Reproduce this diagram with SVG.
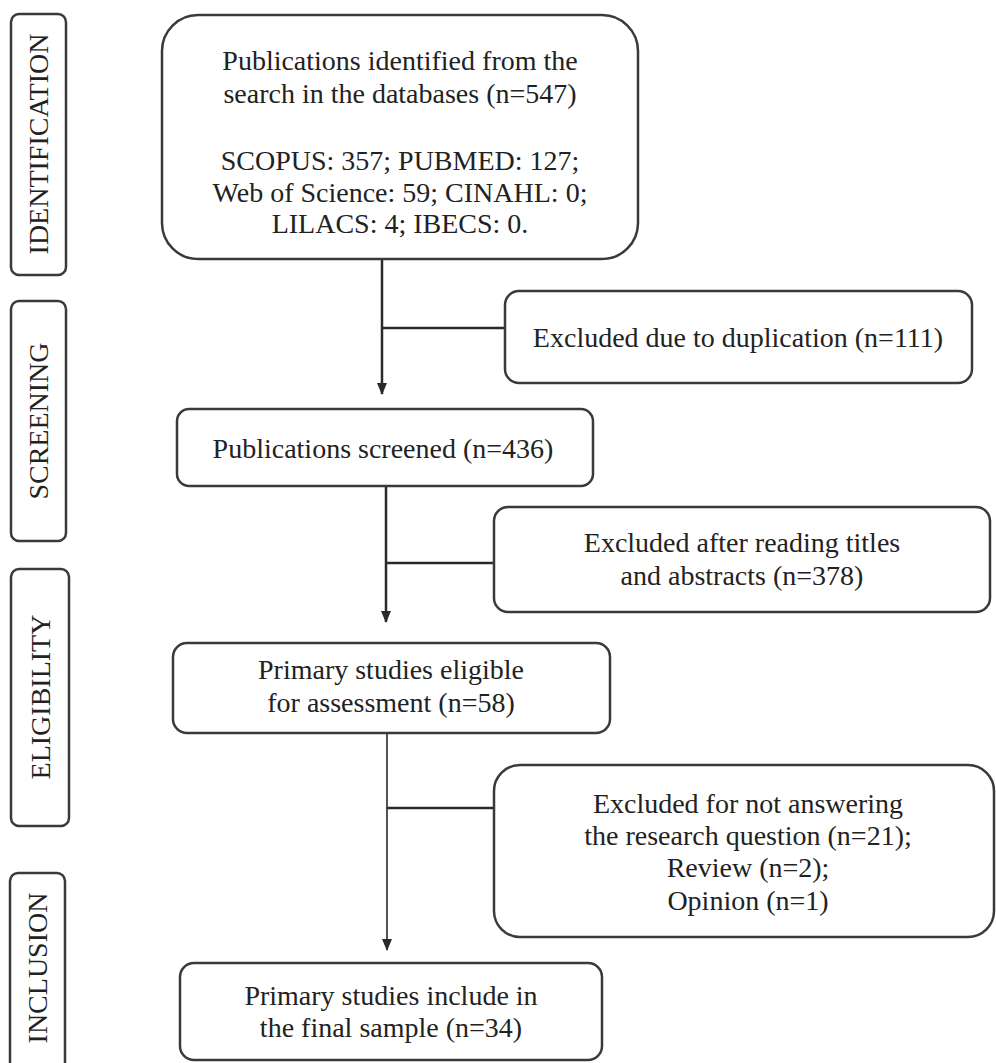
<svg xmlns="http://www.w3.org/2000/svg" width="996" height="1063" viewBox="0 0 996 1063">
<style>
.box{fill:#fff;stroke:#3a3a3a;stroke-width:2.5}
.t{font-family:"Liberation Serif","Times New Roman",serif;font-size:28px;fill:#222;text-anchor:middle}
.s{font-family:"Liberation Serif","Times New Roman",serif;font-size:28px;fill:#222;text-anchor:middle}
.c{fill:none;stroke:#2a2a2a;stroke-width:2.5}
</style>
<defs>
<marker id="arr" markerWidth="12" markerHeight="12" refX="11" refY="6" orient="auto" markerUnits="userSpaceOnUse">
<path d="M0,1 L12,6 L0,11 Z" fill="#2a2a2a"/>
</marker>
</defs>
<rect width="996" height="1063" fill="#fff"/>
<g id="stage-identification">
<rect class="box" x="11" y="14" width="55" height="261" rx="8"/>
<text class="s" transform="translate(48 144) rotate(-90)">IDENTIFICATION</text>
</g>
<g id="stage-screening">
<rect class="box" x="11" y="301" width="55" height="240" rx="8"/>
<text class="s" transform="translate(48 421) rotate(-90)">SCREENING</text>
</g>
<g id="stage-eligibility">
<rect class="box" x="11" y="569" width="58" height="257" rx="8"/>
<text class="s" transform="translate(50 697) rotate(-90)">ELIGIBILITY</text>
</g>
<g id="stage-inclusion">
<rect class="box" x="10" y="873" width="55" height="200" rx="8"/>
<text class="s" transform="translate(47 968) rotate(-90)">INCLUSION</text>
</g>
<g id="connectors">
<path class="c" d="M382,259 V394" marker-end="url(#arr)"/>
<path class="c" d="M382,328 H505"/>
<path class="c" d="M386,486 V622" marker-end="url(#arr)"/>
<path class="c" d="M386,563 H494"/>
<path class="c" d="M387,733 V950" style="stroke-width:1.6" marker-end="url(#arr)"/>
<path class="c" d="M387,808 H494"/>
</g>
<g id="n-identified">
<rect class="box" x="162" y="15" width="476" height="244" rx="36"/>
<text class="t" x="400" y="70">Publications identified from the</text>
<text class="t" x="400" y="103">search in the databases (n=547)</text>
<text class="t" x="400" y="170">SCOPUS: 357; PUBMED: 127;</text>
<text class="t" x="400" y="202">Web of Science: 59; CINAHL: 0;</text>
<text class="t" x="400" y="233">LILACS: 4; IBECS: 0.</text>
</g>
<g id="n-duplication">
<rect class="box" x="505" y="291" width="467" height="92" rx="14"/>
<text class="t" x="738" y="347">Excluded due to duplication (n=111)</text>
</g>
<g id="n-screened">
<rect class="box" x="177" y="409" width="416" height="77" rx="12"/>
<text class="t" x="383" y="458">Publications screened (n=436)</text>
</g>
<g id="n-titles">
<rect class="box" x="494" y="507" width="496" height="105" rx="14"/>
<text class="t" x="742" y="552">Excluded after reading titles</text>
<text class="t" x="742" y="585">and abstracts (n=378)</text>
</g>
<g id="n-eligible">
<rect class="box" x="173" y="643" width="437" height="90" rx="14"/>
<text class="t" x="391" y="679">Primary studies eligible</text>
<text class="t" x="391" y="712">for assessment (n=58)</text>
</g>
<g id="n-notanswering">
<rect class="box" x="494" y="765" width="500" height="172" rx="26"/>
<text class="t" x="748" y="813">Excluded for not answering</text>
<text class="t" x="748" y="845">the research question (n=21);</text>
<text class="t" x="748" y="877">Review (n=2);</text>
<text class="t" x="748" y="910">Opinion (n=1)</text>
</g>
<g id="n-included">
<rect class="box" x="180" y="963" width="422" height="97" rx="14"/>
<text class="t" x="391" y="1005">Primary studies include in</text>
<text class="t" x="391" y="1037">the final sample (n=34)</text>
</g>
</svg>
